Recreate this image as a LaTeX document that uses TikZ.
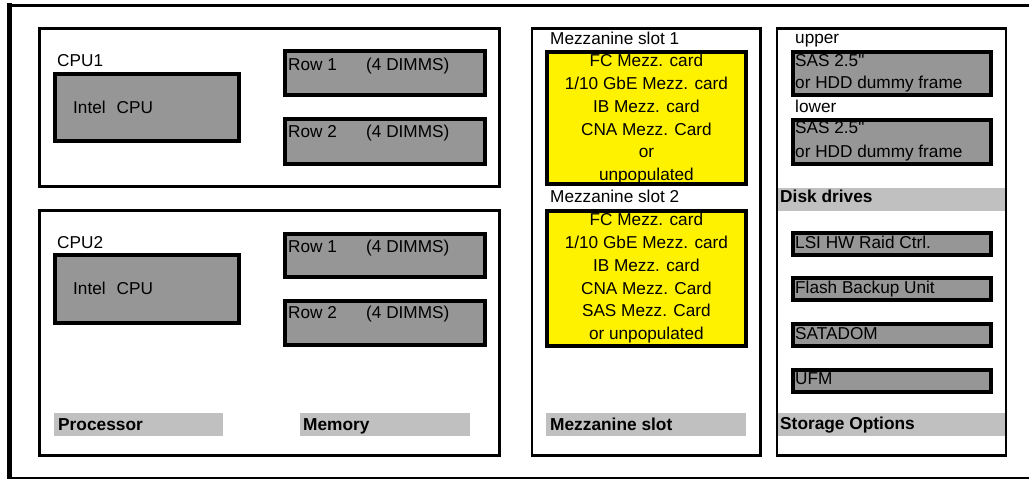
\documentclass[tikz,border=0pt]{standalone}
\usepackage{fontspec}
\setmainfont{Liberation Sans}[Ligatures=TeXOff]
\definecolor{partgray}{RGB}{150,150,150}
\definecolor{bandgray}{RGB}{192,192,192}

\begin{document}
\begin{tikzpicture}[x=1pt,y=-1pt,
  panel/.style={line width=2.2pt},
  part/.style={fill=partgray,line width=3.8pt},
  card/.style={fill=yellow,line width=3.8pt},
  txt/.style={anchor=west,inner sep=0pt,text height=12.3pt,text depth=0pt,font=\fontsize{17.2}{22.8}\selectfont},
  head/.style={txt,font=\bfseries\fontsize{17.3}{22.8}\selectfont},
  cardtxt/.style={inner sep=0pt,align=center,font=\fontsize{17.2}{22.8}\selectfont}]
\useasboundingbox (0,0) rectangle (1029,479);
% outer frame
\draw[line width=3.3pt] (7.3,5.7)--(1029,5.7);
\draw[line width=5pt] (9.8,3.2)--(9.8,478.8);
\draw[line width=1.7pt] (7.3,478)--(1029,478);

% processor and memory
\draw[panel] (39.5,28.5) rectangle (499.5,186.5);
\draw[panel] (39.5,210.5) rectangle (499.5,455.5);
\draw[part] (55.3,74.2) rectangle (238.7,141.3);
\draw[part] (285.3,51.3) rectangle (484.7,95.3);
\draw[part] (285.3,118.7) rectangle (484.7,163.7);
\draw[part] (55.3,255.3) rectangle (238.7,323);
\draw[part] (285.3,233.7) rectangle (484.7,277.3);
\draw[part] (285.3,301.3) rectangle (484.7,345.3);
\node[txt] (cpuAlbl) at (57,60.5) {CPU1};
\node[txt] (cpuA) at (73,107) {Intel\hspace{11pt}CPU};
\node[txt] (memAa) at (288,64.5) {\makebox[78pt][l]{Row 1}(4 DIMMS)};
\node[txt] (memAb) at (288,131.5) {\makebox[78pt][l]{Row 2}(4 DIMMS)};
\node[txt] (cpuBlbl) at (57,242.5) {CPU2};
\node[txt] (cpuB) at (73,288.5) {Intel\hspace{11pt}CPU};
\node[txt] (memBa) at (288,246.5) {\makebox[78pt][l]{Row 1}(4 DIMMS)};
\node[txt] (memBb) at (288,312.5) {\makebox[78pt][l]{Row 2}(4 DIMMS)};
\fill[bandgray] (54,413.3) rectangle (223.3,435.7);
\fill[bandgray] (300,413.3) rectangle (470,435.7);
\node[head] (proclbl) at (58,424.5) {Processor};
\node[head] (memlbl) at (303,424.5) {Memory};

% mezzanine slots
\draw[panel] (531.8,28.5) rectangle (760.5,455.5);
\draw[card] (547,52) rectangle (745.7,183.7);
\draw[card] (547,210.7) rectangle (745.7,345.7);
\node[txt] (slotAlbl) at (550,38.5) {Mezzanine slot 1};
\node[cardtxt] (slotA) at (646.4,119.2) {FC Mezz. card\\1/10 GbE Mezz. card\\IB Mezz. card\\CNA Mezz. Card\\or\\unpopulated};
\node[txt] (slotBlbl) at (550,196.5) {Mezzanine slot 2};
\node[cardtxt] (slotB) at (646.4,278.2) {FC Mezz. card\\1/10 GbE Mezz. card\\IB Mezz. card\\CNA Mezz. Card\\SAS Mezz. Card\\or unpopulated};
\fill[bandgray] (546,413.3) rectangle (746,435.7);
\node[head] (mezzlbl) at (550,424.5) {Mezzanine slot};

% storage options
\draw[panel] (777.2,28.5) rectangle (1006.2,455.5);
\draw[part] (792.7,52) rectangle (991.3,95.3);
\draw[part] (792.7,119.7) rectangle (991.3,163.7);
\draw[part] (792.7,233) rectangle (991.3,254.7);
\draw[part] (792.7,278) rectangle (991.3,300.3);
\draw[part] (792.7,324.3) rectangle (991.3,345.7);
\draw[part] (792.7,369.7) rectangle (991.3,391.7);
\node[txt] (upperlbl) at (795,37.5) {upper};
\node[txt] (upperA) at (795,60.5) {SAS 2.5"};
\node[txt] (upperB) at (795,82.8) {or HDD dummy frame};
\node[txt] (lowerlbl) at (795,106) {lower};
\node[txt] (lowerA) at (795,127.8) {SAS 2.5"};
\node[txt] (lowerB) at (795,151.2) {or HDD dummy frame};
\fill[bandgray] (778,187.7) rectangle (1005.2,210.7);
\node[head] (disklbl) at (780,196.5) {Disk drives};
\node[txt] (raid) at (795,242.5) {LSI HW Raid Ctrl.};
\node[txt] (fbu) at (795,287.5) {Flash Backup Unit};
\node[txt] (satadom) at (795,333.5) {SATADOM};
\node[txt] (ufm) at (795,378.5) {UFM};
\fill[bandgray] (778,413.3) rectangle (1005.2,435.7);
\node[head] (storlbl) at (780,423.5) {Storage Options};
\end{tikzpicture}
\end{document}
